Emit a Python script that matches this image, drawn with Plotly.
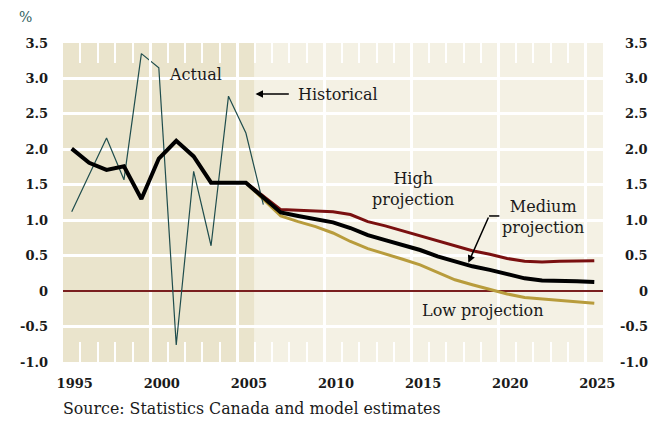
import plotly.graph_objects as go

years = list(range(1995, 2026))
actual_years = list(range(1995, 2007))
proj_years = list(range(2005, 2026))

actual = [1.12, 1.64, 2.16, 1.57, 3.35, 3.15, -0.76, 1.69, 0.64, 2.75, 2.23, 1.22]
medium = [2.01, 1.81, 1.71, 1.76, 1.30, 1.87, 2.12, 1.90, 1.53, 1.53, 1.53,
          1.32, 1.11, 1.06, 1.02, 0.97, 0.89, 0.79, 0.72, 0.65, 0.58,
          0.49, 0.42, 0.35, 0.30, 0.24, 0.18, 0.15, 0.15, 0.14, 0.13]
high = [1.53, 1.34, 1.15, 1.14, 1.13, 1.12, 1.08, 0.98, 0.92, 0.85, 0.78,
        0.71, 0.63, 0.57, 0.52, 0.46, 0.42, 0.41, 0.42, 0.43, 0.43]
low = [1.53, 1.30, 1.06, 0.98, 0.91, 0.82, 0.70, 0.60, 0.53, 0.45, 0.37,
       0.26, 0.16, 0.09, 0.02, -0.04, -0.09, -0.11, -0.13, -0.15, -0.17]

x_labels = [1995, 2000, 2005, 2010, 2015, 2020, 2025]
y_ticks = [-1.0, -0.5, 0, 0.5, 1.0, 1.5, 2.0, 2.5, 3.0, 3.5]
y_text = ["-1.0", "-0.5", "0", "0.5", "1.0", "1.5", "2.0", "2.5", "3.0", "3.5"]

FONT = "DejaVu Serif"
x_range = [years[0] - 0.5, years[-1] + 0.5]
grid_x = [y - 0.5 for y in x_labels[1:]]
tick_x = [y + 0.5 for y in years[:-1]]

fig = go.Figure()

fig.add_trace(go.Scatter(x=proj_years, y=low, mode="lines", xaxis="x", yaxis="y",
                         line=dict(color="#b89c3c", width=3), name="Low projection"))
fig.add_trace(go.Scatter(x=proj_years, y=high, mode="lines", xaxis="x", yaxis="y",
                         line=dict(color="#7a1010", width=3), name="High projection"))
fig.add_trace(go.Scatter(x=actual_years, y=actual, mode="lines", xaxis="x2", yaxis="y",
                         line=dict(color="#1f4d4d", width=1.2), name="Actual"))
fig.add_trace(go.Scatter(x=years, y=medium, mode="lines", xaxis="x3", yaxis="y",
                         line=dict(color="black", width=4), name="Medium projection"))

# shaded periods
fig.add_shape(type="rect", xref="x", yref="paper", x0=x_range[0], x1=2005.5, y0=0, y1=1,
              fillcolor="#eae4cc", line_width=0, layer="below")
fig.add_shape(type="rect", xref="x", yref="paper", x0=2005.5, x1=x_range[1], y0=0, y1=1,
              fillcolor="#f4f1e4", line_width=0, layer="below")

tickfont = dict(family=FONT, size=13, color="#1a1a1a", weight="bold")
txt = dict(family=FONT, size=16, color="#1a1a1a")

# page body adds an 8px margin, so the figure is 8px smaller than the window
fig.update_layout(
    width=656, height=414,
    margin=dict(l=50, r=61, t=35, b=60),
    paper_bgcolor="white", plot_bgcolor="rgba(0,0,0,0)",
    showlegend=False,
    xaxis=dict(range=x_range, tickmode="array", tickvals=x_labels,
               ticktext=[str(v) for v in x_labels], showgrid=False, zeroline=False,
               ticks="", tickfont=tickfont, ticklabelshift=3, ticklabelstandoff=12),
    xaxis2=dict(overlaying="x", matches="x", side="bottom", showticklabels=False,
                tickmode="array", tickvals=grid_x, showgrid=True, gridcolor="white",
                gridwidth=3, ticks="", zeroline=False,
                minor=dict(tickmode="array", tickvals=tick_x, ticks="inside", ticklen=20,
                           tickwidth=2, tickcolor="white", showgrid=False)),
    xaxis3=dict(overlaying="x", matches="x", side="top", showticklabels=False,
                showgrid=False, ticks="", zeroline=False, tickmode="array", tickvals=grid_x,
                minor=dict(tickmode="array", tickvals=tick_x, ticks="inside", ticklen=20,
                           tickwidth=2, tickcolor="white", showgrid=False)),
    yaxis=dict(range=[y_ticks[0], y_ticks[-1]], tickmode="array", tickvals=y_ticks,
               ticktext=y_text, showgrid=True, gridcolor="white", gridwidth=3,
               zeroline=True, zerolinecolor="#7a1f1f", zerolinewidth=1.5,
               ticks="", tickfont=tickfont, ticklabelstandoff=14),
)

# right-hand scale
for v, t in zip(y_ticks, y_text):
    fig.add_annotation(x=1, xref="paper", y=v, yref="y", text=t, showarrow=False,
                       xanchor="right", xshift=47, font=tickfont)

fig.add_annotation(x=0, xref="paper", y=1, yref="paper", text="%", showarrow=False,
                   xanchor="left", yanchor="top", xshift=-45, yshift=35, borderpad=0,
                   font=dict(family=FONT, size=14, color="#2f5e5e"))
fig.add_annotation(x=2002.1, y=3.05, text="Actual", showarrow=False, font=txt)
fig.add_annotation(x=2005.55, y=2.78, ax=2007.55, ay=2.78, axref="x", ayref="y",
                   text="", showarrow=True, arrowhead=2, arrowsize=1, arrowwidth=1.5,
                   arrowcolor="black")
fig.add_annotation(x=2007.85, y=2.78, text="Historical", showarrow=False,
                   xanchor="left", font=txt)
fig.add_annotation(x=2014.6, y=1.44, text="High<br>projection", showarrow=False, font=txt)
fig.add_annotation(x=2022.05, y=1.04, text="Medium<br>projection", showarrow=False, font=txt)
fig.add_annotation(x=2018.6, y=-0.28, text="Low projection", showarrow=False, font=txt)
fig.add_shape(type="line", xref="x", yref="y", x0=2018.96, x1=2019.55, y0=1.06, y1=1.06,
              line=dict(color="black", width=1.5))
fig.add_annotation(x=2017.77, y=0.40, ax=2018.96, ay=1.06, axref="x", ayref="y",
                   text="", showarrow=True, arrowhead=2, arrowsize=1, arrowwidth=1.5,
                   arrowcolor="black")
fig.add_annotation(x=0, xref="paper", y=-0.145, yref="paper",
                   text="Source: Statistics Canada and model estimates",
                   showarrow=False, xanchor="left", yanchor="middle", xshift=-2,
                   font=dict(family=FONT, size=15.8, color="#1a1a1a"))

fig.write_html("out.html")
